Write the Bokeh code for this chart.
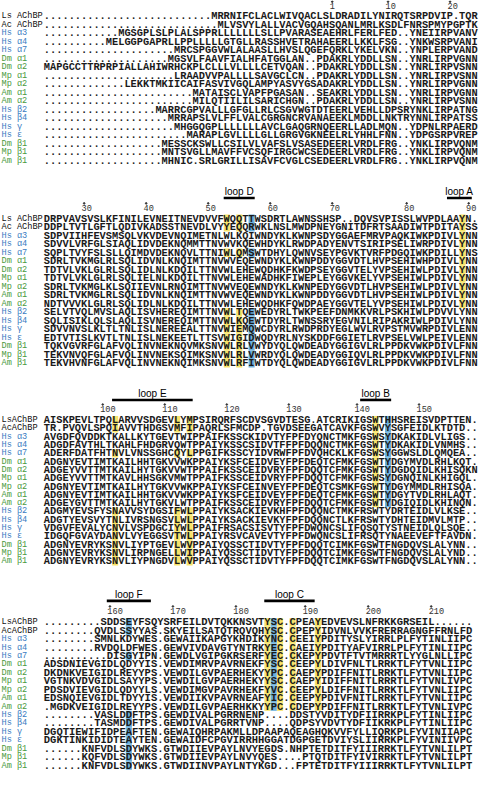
from bokeh.plotting import figure
from bokeh.models import Range1d, ColumnDataSource
from bokeh.embed import file_html
from bokeh.resources import INLINE
from bokeh.core.properties import value

# ---------------- data ----------------
LABELS_TOP = ["Ls AChBP", "Ac AChBP", "Hs α3", "Hs α4", "Hs α7", "Dm α1", "Dm α2",
              "Mp α1", "Mp α2", "Am α1", "Am α2", "Hs β2", "Hs β4", "Hs γ", "Hs ε",
              "Dm β1", "Mp β1", "Am β1"]
LABELS_BOTTOM = ["LsAChBP", "AcAChBP"] + LABELS_TOP[2:]
SPECIES_GROUP = ["ref", "ref", "hs", "hs", "hs", "ins", "ins", "ins", "ins", "ins", "ins",
                 "hs", "hs", "hs", "hs", "ins", "ins", "ins"]

BLOCK1 = [
    "." * 27 + "MRR" + "NIFCLACLWIVQACLSLDRADILYNIRQTSRPDVIP.TQR",
    "." * 28 + "ML" + "VSVYLALLVACVGQAHSQANLMRLKSDLFNRSPMYPGPTK",
    "." * 12 + "MGSGPLSLPLALSPPRLL" + "LLLLLSLLPVARASEAEHRLFERLFED..YNEIIRPVANV",
    "." * 10 + "MELGGPGAPRLLPPLLLLLG" + "TGLLRASSHVETRAHAEERLLKKLFSG..YNKWSRPVANI",
    "." * 21 + "MRCSPGGVW" + "LALAASLLHVSLQGEFQRKLYKELVKN..YNPLERPVAND",
    "." * 20 + "MGSVLFAAVF" + "IALHFATGGLAN..PDAKRLYDDLLSN..YNRLIRPVGNN",
    "MAPGCCTTRPRPIALLAHIWRHCKPLCLLL" + "VLLLLCETVQAN..PDAKRLYDDLLSN..YNRLIRPVSNN",
    "." * 21 + "LRAADVVPA" + "LLLLSAVGCLCN..PDAKRLYDDLLSN..YNRLIRPVSNN",
    "." * 13 + "LEKKTMKIICAIFASVI" + "VGQLAMPYASVYGSADAKRLYDDLLSN..YNRLIRPVGNN",
    "." * 24 + "MATAIS" + "CLVAPFPGASAN..SEAKRLYDDLLSN..YNRLIRPVGNN",
    "." * 24 + "MILQTI" + "ILILSARICHGN..PDAKRLYDDLLSN..YNRLIRPVSNN",
    "." * 18 + "MARRCGPVALLL" + "GFGLLRLCSGVWGTDTEERLVEHLLDPSRYNKLIRPATNG",
    "." * 20 + "MRRAPSLVLF" + "FLVALCGRGNCRVANAEEKLMDDLLNKTRYNNLIRPATSS",
    "." * 21 + "MHGGQGPLL" + "LLLLLAVCLGAQGRNQEERLLADLMQN..YDPNLRPAERD",
    "." * 23 + "MARAPLG" + "VLLLLGLLGRGVGKNEELRLYHHLFNN..YDPGSRPVREP",
    "." * 19 + "MESSCKSWLLC" + "SILVLVAFSLVSASEDEERLVRDLFRG..YNKLIRPVQNM",
    "." * 19 + "MNTSVGLLMAV" + "FFVCSQFIRGCWCSEDEERLVRDLFRG..YNKLIRPVQNM",
    "." * 19 + "MHNIC.SRLGR" + "ILLISAVFCVGLCSEDEERLVRDLFRG..YNKLIRPVQNM",
]

BLOCK2 = [
    "DRPVAVSVSLKFINILEVNEITNEVDVVFW" + "QQTTWSDRTLAWNSSHSP..DQVSVPISSLWVPDLAAYN.",
    "DDPLTVTLGFTLQDIVKADSSTNEVDLVYY" + "EQQRWKLNSLMWDPNEYGNITDFRTSAADIWTPDITAYSS",
    "SDPVIIHFEVSMSQLVKVDEVNQIMETNLW" + "LKQIWNDYKLKWNPSDYGGAEFMRVPAQKIWKPDIVLYNN",
    "SDVVLVRFGLSIAQLIDVDEKNQMMTTNVW" + "VKQEWHDYKLRWDPADYENVTSIRIPSELIWRPDIVLYNN",
    "SQPLTVYFSLSLLQIMDVDEKNQVLTTNIW" + "LQMSWTDHYLQWNVSEYPGVKTVRFPDGQIWKPDILLYNS",
    "SDRLTVKMGLRLSQLIDVNLKNQIMTTNVW" + "VEQEWNDYKLKWNPDDYGGVDTLHVPSEHIWHPDIVLYNN",
    "TDTVLVKLGLRLSQLIDLNLKDQILTTNVW" + "LEHEWQDHKFKWDPSEYGGVTELYVPSEHIWLPDIVLYNN",
    "TDTVLVKLGLRLSQLIELNLKDQILTTNVW" + "LEHEWADHKFIWEPLEYGGVKELYVPSEHIWLPDIVLYNN",
    "SDRLTVKMGLKLSQIIEVNLRNQIMTTNVW" + "VEQEWNDYKLKWNPEDYGGVDTLHVPSEHIWLPDIVLYNN",
    "SDRLTVKMGLRLSQLIDVNLKNQIMTTNVW" + "VEQEWNDYKLKWNPDDYGGVDTLHVPSEHIWLPDIVLYNN",
    "NDTVVVKLGLRLSQLIDLNLKDQILTTNVW" + "LEHEWQDHKFQWDPAEYGGVTELYVPSEHIWLPDIVLYNN",
    "SELVTVQLMVSLAQLISVHEREQIMTTNVW" + "LTQEWEDYRLTWKPEEFDNMKKVRLPSKHIWLPDVVLYNN",
    "SQLISIKLQLSLAQLISVNEREQIMTTNVW" + "LKQEWTDYRLTWNSSRYEGVNILRIPAKRIWLPDIVLYNN",
    "SDVVNVSLKLTLTNLISLNEREEALTTNVW" + "IEMQWCDYRLRWDPRDYEGLWVLRVPSTMVWRPDIVLENN",
    "EDTVTISLKVTLTNLISLNEKEETLTTSVW" + "IGIDWQDYRLNYSKDDFGGIETLRVPSELVWLPEIVLENN",
    "TQKVGVRFGLAFVQLINVNEKNQVMKSNVW" + "LRLVWYDYQLQWDEADYGGIGVLRLPPDKVWKPDIVLFNN",
    "TEKVNVQFGLAFVQLINVNEKSQIMKSNVW" + "LRLVWRDYQLQWDEADYGGIQVLRLPPDKVWKPDIVLFNN",
    "TEKVHVNFGLAFVQLINVNEKNQIMKSNVW" + "LRFIWTDYQLQWDEADYGGIGVLRLPPDKVWKPDIVLFNN",
]

BLOCK3 = [
    "AISKPEVLTPQLARVVSDGEVLYMPSIRQR" + "FSCDVSGVDTESG.ATCRIKIGSWTHHSREISVDPTTEN.",
    "TR.PVQVLSPQIAVVTHDGSVMFIPAQRLS" + "FMCDP.TGVDSEEGATCAVKFGSWVYSGFEIDLKTDTD..",
    "AVGDFQVDDKTKALLKYTGEVTWIPPAIFK" + "SSCKIDVTYFPFDYQNCTMKFGSWSYDKAKIDLVLIGS..",
    "ADGDFAVTHLTKAHLFHDGRVQWTPPAIYK" + "SSCSIDVTFFPFDQQNCTMKFGSWTYDKAKIDLVNMHS..",
    "ADERFDATFHTNVLVNSSGHCQYLPPGIFK" + "SSCYIDVRWFPFDVQHCKLKFGSWSYGGWSLDLQMQEA..",
    "ADGNYEVTIMTKAILHHTGKVVWKPPAIYK" + "SFCEIDVEYFPFDEQTCFMKFGSWTYDGYMVDLRHLKQT.",
    "ADGEYVVTTMTKAILHYTGKVVWTPPAIFK" + "SSCEIDVRYFPFDQQTCFMKFGSWTYDGDQIDLKHISQKN",
    "ADGEYVVTTMTKAVLHHSGKVMWTPPAIFK" + "SSCEIDVRYFPFDQQTCFMKFGSWSYDGNQINLKHIGQL.",
    "ADGNYEVTIMTKAILHYTGKVVWKPPAIYK" + "SFCEINVEYFPFDEQTCSMKFGSWTYDGYMMDLRHISQA.",
    "ADGNYEVTIMTKAILHHTGKVVWKPPAIYK" + "SFCEIDVEYFPFDEQTCFMKFGSWTYDGYTVDLRHLAQT.",
    "ADGEYGVTTMTKAILHYTGKVLWTPPAIFK" + "SSCEIDVRYFPFDQQTCFMKFGSWTYDGIQIDLKHINQN.",
    "ADGMYEVSFYSNAVVSYDGSIFWLPPAIYK" + "SACKIEVKHFPFDQQNCTMKFRSWTYDRTEIDLVLKSE..",
    "ADGTYEVSVYTNLIVRSNGSVLWLPPAIYK" + "SACKIEVKYFPFDQQNCTLKFRSWTYDHTEIDMVLMTP..",
    "VDGVFEVALYCNVLVSPDGCIYWLPPAIFR" + "SACSISVTYFPFDWQNCSLIFQSQTYSTNEIDLQLSQE..",
    "IDGQFGVAYDANVLVYEGGSVTWLPPAIYR" + "SVCAVEVTYFPFDWQNCSLIFRSQTYNAEEVEFTFAVDN.",
    "ADGNYEVRYKSNVLIYPTGEVLWVPPAIYQ" + "SSCTIDVTYFPFDQQTCIMKFGSWTFNGDQVSLALYNN..",
    "ADGNYEVRYKSNVLIRPNGELLWIPPAIYQ" + "SSCTIDVTYFPFDQQTCIMKFGSWTFNGDQVSLALYND..",
    "ADGNYEVRYKSNVLIYPNGDVLWVPPAIYQ" + "SSCTIDVTYFPFDQQTCIMKFGSWTFNGDQVSLALYNN..",
]

BLOCK4 = [
    "." * 9 + "SDDSEYFSQYSRFEILDVTQK" + "KNSVTYSC.CPEAYEDVEVSLNFRKKGRSEIL" + "." * 6,
    "." * 8 + "QVDLSSYYAS.SKYEILSATQT" + "RQVQHYSC.CPEPYIDVNLVVKFRERRAGNGFFRNLFD",
    "." * 8 + "SMNLKDYWES.GEWAIIKAPGY" + "KHDIKYNC.CEEIYPDITYSLYIRRLPLFYTINLIIPC",
    "." * 8 + "RVDQLDFWES.GEWVIVDAVGT" + "YNTRKYEC.CAEIYPDITYAFVIRRLPLFYTINLIIPC",
    "." * 10 + "DISGYIPN.GEWDLVGIPGK" + "RSERFYEC.CKEPYPDVTFTVTMRRRTLYYGLNLLIPC",
    "ADSDNIEVGIDLQDYYIS.VEWDIMRVPAV" + "RNEKFYSC.CEEPYLDIVFNLTLRRKTLFYTVNLIIPC",
    "DKDNKVEIGIDLREYYPS.VEWDILGVPAE" + "RHEKYYPC.CAEPYPDIFFNITLRRKTLFYTVNLIIPC",
    "VGTNKVDVGIDLSAYYPS.VEWDILGVPAE" + "RHEKYYSC.CAEPYIDIFFNITLRRRTLFYTVNLIVPC",
    "PDSDVIEVGIDLQDYYLS.VEWDIMGVPAV" + "RHEKFYVC.CEEPYLDIFFNITLRRKTLFYTVNLIIPC",
    "EDSNQIEVGIDLTDYYIS.VEWDIIKVPAV" + "RNEAFYIC.CEEPYPDIVFNITLRRKTLFYTVNLIIPC",
    ".MGDKVEIGIDLREYYPS.VEWDILGVPAE" + "RHKKYYPC.CDEPYPDIFFNITLRRKTLFYTVNLIVPC",
    "." * 8 + "VASLDDFTPS.GEWDIVALPGR" + "RNENP....DDSTYVDITYDFIIRRKPLFYTINLIIPC",
    "." * 8 + "TASMDDFTPS.GEWDIVALPGR" + "RTVNP....QDPSYVDVTYDFIIKRKPLFYTINLIIPC",
    "DGQTIEWIFIDPEAFTEN.GEWAIQHRPAK" + "MLLDPAAPAQEAGHQKVVFYLLIQRKPLFYVINIIAPC",
    "DGKTINKIDIDTEAYTEN.GEWAIDFCPGV" + "IRRHHGGATDGPGETDVIYSLIIRRKPLFYVINIIVPC",
    "." * 6 + "KNFVDLSDYWKS.GTWDIIEVPAY" + "LNVYEGDS.NHPTETDITFYIIIRRKTLFYTVNLILPT",
    "." * 6 + "KQFVDLSDYWKS.GTWDIIEVPAY" + "LNVYQES....PTQTDITFYIVIRRKTLFYTVNLILPT",
    "." * 6 + "KNFVDLSDYWKS.GTWDIINVPAY" + "LNTYKGD...FPTETDITFYIIIRRKTLFYTVNLILPT",
]
BLOCKS = [BLOCK1, BLOCK2, BLOCK3, BLOCK4]

# residue numbering (column index within block, label)
NUM_COLS = [[46, 55, 65], [6, 16, 26, 36, 46, 58, 68], [9, 19, 29, 39, 50, 60], [10, 20, 30, 41, 51, 61]]
NUM_TEXT = [["1", "10", "20"], ["30", "40", "50", "60", "70", "80", "90"],
            ["100", "110", "120", "130", "140", "150"], ["160", "170", "180", "190", "200", "210"]]

# loops: name, block, first column, last column
LOOP_NAMES = ["loop D", "loop A", "loop E", "loop B", "loop F", "loop C"]
LOOP_BLOCK = [1, 1, 2, 2, 3, 3]
LOOP_START = [29, 65, 11, 51, 10, 35]
LOOP_END = [33, 68, 23, 55, 16, 42]

# highlighted columns: block, column, colour kind, row group
PRINCIPAL_ROWS = [0, 1, 2, 3, 4, 5, 6, 7, 8, 9, 10]
COMPLEMENTARY_ROWS = [0, 1, 4, 11, 12, 13, 14, 15, 16, 17]
HL_BLOCK = [1, 1, 1, 1, 2, 2, 2, 2, 2, 3, 3, 3, 3, 3, 3]
HL_COL = [29, 31, 33, 67, 11, 21, 23, 53, 55, 13, 35, 36, 37, 39, 43]
HL_KIND = ["y", "y", "b", "y", "y", "y", "y", "y", "b", "b", "y", "b", "y", "y", "y"]
HL_GROUP = ["c", "c", "c", "p", "c", "c", "c", "p", "p", "c", "p", "p", "p", "p", "p"]

# ---------------- layout / style ----------------
W, H = 480, 773
XR = (1.0, 494.0)
YR = (793.0, -1.0)
SX = W / (XR[1] - XR[0])
X0 = 48.7
PITCH = [6.37, 6.37, 6.37, 6.47]
Y0 = [15.0, 223.3, 430.0, 637.7]
STEP = [8.75, 8.73, 8.53, 8.66]
NUM_Y = [4.5, 211.7, 418.3, 625.7]
LOOP_TXT_Y = {1: 195.0, 2: 402.7, 3: 609.0}
LOOP_BAR_Y = {1: 201.8, 2: 409.3, 3: 615.7}
YELLOW = "#f7e36a"
BLUE = "#6cb0dc"
GROUP_COLOR = {"ref": "#111111", "hs": "#3a7cc2", "ins": "#4a9a3c"}
MONO = value("Liberation Mono")
SANS = value("Liberation Sans")

p = figure(width=W, height=H, x_range=Range1d(*XR), y_range=Range1d(*YR),
           output_backend="svg", toolbar_location=None,
           x_axis_type=None, y_axis_type=None, min_border=0,
           outline_line_color=None, background_fill_color="white",
           border_fill_color="white")
p.grid.visible = False

# highlight cells
hx, hy, hw, hh, hc = [], [], [], [], []
for b, col, kind, grp in zip(HL_BLOCK, HL_COL, HL_KIND, HL_GROUP):
    rows = PRINCIPAL_ROWS if grp == "p" else COMPLEMENTARY_ROWS
    for r in rows:
        hx.append(X0 + col * PITCH[b])
        hy.append(Y0[b] + r * STEP[b])
        hw.append(PITCH[b] * 0.98)
        hh.append(STEP[b])
        hc.append(YELLOW if kind == "y" else BLUE)
p.rect(x="x", y="y", width="w", height="h", fill_color="c", line_color=None,
       source=ColumnDataSource(dict(x=hx, y=hy, w=hw, h=hh, c=hc)))

# sequences and row labels
for b, block in enumerate(BLOCKS):
    ys = [Y0[b] + r * STEP[b] for r in range(len(block))]
    fs = PITCH[b] * SX / 0.6
    p.text(x=[X0 - PITCH[b] / 2] * len(block), y=ys, text=block,
           text_font=MONO, text_font_size=f"{fs:.2f}px", text_font_style="bold",
           text_align="left", text_baseline="middle", text_color="#1a1a1a")
    labels = LABELS_TOP if b < 2 else LABELS_BOTTOM
    p.text(x=[2.0] * len(labels), y=ys, text=labels,
           text_color=[GROUP_COLOR[g] for g in SPECIES_GROUP],
           text_font=MONO, text_font_size="8.6px",
           text_align="left", text_baseline="middle")
    # numbering
    nfs = 8.6
    cx = [X0 + c * PITCH[b] for c in NUM_COLS[b]]
    p.text(x=[x - 0.3 * nfs / SX for x in cx], y=[NUM_Y[b]] * len(cx), text=NUM_TEXT[b],
           text_font=MONO, text_font_size=f"{nfs}px", text_color="#333333",
           text_align="left", text_baseline="middle")
    p.scatter(x=cx, y=[NUM_Y[b] - 4.3] * len(cx), marker="circle", size=1.6,
              color="#333333")

# loops
for name, b, s, e in zip(LOOP_NAMES, LOOP_BLOCK, LOOP_START, LOOP_END):
    x0 = X0 + s * PITCH[b] - PITCH[b] / 2
    x1 = X0 + e * PITCH[b] + PITCH[b] / 2
    p.segment(x0=[x0], y0=[LOOP_BAR_Y[b]], x1=[x1], y1=[LOOP_BAR_Y[b]],
              line_width=2.6, line_color="black", line_cap="butt")
    p.text(x=[(x0 + x1) / 2], y=[LOOP_TXT_Y[b]], text=[name], text_font=SANS,
           text_font_size="10px", text_align="center", text_baseline="middle",
           text_color="black")

open("out.html", "w").write(file_html(p, INLINE))
